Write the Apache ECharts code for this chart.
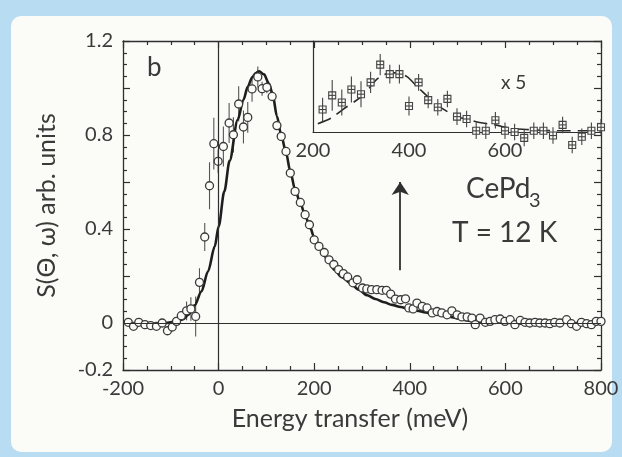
<!DOCTYPE html>
<html>
<head>
<meta charset="utf-8">
<script src="https://cdn.jsdelivr.net/npm/echarts@6/dist/echarts.min.js"></script>
<style>
  html, body { margin: 0; padding: 0; width: 622px; height: 457px; overflow: hidden; background: #b8dcf1; }
  #panel { position: absolute; left: 11px; top: 16px; width: 601px; height: 436px; background: #fbfbf8; border-radius: 10px; }
  #chart { position: absolute; left: 0; top: 0; width: 622px; height: 457px; }
</style>
</head>
<body>
<div id="panel"></div>
<div id="chart"></div>
<script>
// Measured spectrum: energy transfer (meV), intensity S(Θ, ω) and its error
const energy = [-189, -178, -167, -154, -142, -130, -118, -107, -97, -88, -78, -67, -58, -48, -40, -29, -19, -10, -1, 10,
  22, 31, 42, 52, 61, 70, 82, 91, 101, 112, 122, 131, 141, 150, 160, 171, 181, 190, 200, 210,
  221, 231, 241, 251, 261, 270, 281, 290, 301, 310, 320, 331, 342, 351, 360, 370, 381, 391, 398, 407,
  415, 426, 436, 447, 457, 467, 478, 488, 499, 509, 520, 530, 537, 547, 558, 568, 578, 589, 599, 610,
  620, 631, 641, 651, 662, 672, 683, 693, 703, 714, 728, 738, 749, 759, 770, 780, 790, 800];
const intensity = [0.003, -0.014, 0.003, -0.007, -0.011, -0.014, 0.000, -0.033, -0.017, 0.007, 0.031, 0.052, 0.060, 0.028, 0.173, 0.366, 0.584, 0.763, 0.688, 0.751,
  0.851, 0.801, 0.932, 0.834, 0.875, 0.996, 1.047, 0.997, 1.003, 0.964, 0.840, 0.794, 0.730, 0.638, 0.560, 0.513, 0.461, 0.418, 0.354, 0.326,
  0.300, 0.269, 0.249, 0.227, 0.210, 0.196, 0.171, 0.184, 0.149, 0.145, 0.142, 0.142, 0.139, 0.139, 0.123, 0.102, 0.099, 0.103, 0.064, 0.060,
  0.085, 0.071, 0.064, 0.043, 0.049, 0.043, 0.035, 0.052, 0.035, 0.026, 0.026, 0.021, -0.007, 0.021, 0.003, 0.007, 0.014, 0.017, 0.007, 0.014,
  -0.007, 0.011, 0.003, 0.000, 0.003, 0.000, 0.000, -0.003, 0.003, 0.000, 0.014, -0.003, -0.014, 0.003, -0.003, -0.007, 0.007, 0.007];
const intensityErr = [0, 0, 0, 0, 0, 0, 0, 0, 0, 0, 0.02, 0.04, 0.05, 0.085, 0.06, 0.06, 0.1, 0.11, 0.05, 0.085,
  0.085, 0.075, 0.075, 0.07, 0.065, 0.055, 0.045, 0.03, 0.025, 0.02];

// Model line shape
const fitEnergy = [-110, -90, -75, -63, -50, -36, -22, -8, 0, 12, 23, 40, 52, 61, 70, 78, 85, 95, 105, 113,
  122, 131, 141, 150, 160, 171, 181, 190, 200, 215, 228, 242, 258, 276, 293, 311, 328, 346, 363, 381,
  398, 415, 433, 450, 468, 485, 503, 520, 537, 560];
const fitIntensity = [0, 0.005, 0.015, 0.035, 0.075, 0.134, 0.22, 0.326, 0.41, 0.56, 0.69, 0.865, 0.95, 1.005, 1.045, 1.064, 1.071, 1.058, 1.02, 0.975,
  0.88, 0.80, 0.725, 0.645, 0.568, 0.51, 0.458, 0.415, 0.365, 0.31, 0.27, 0.227, 0.195, 0.17, 0.142, 0.118, 0.102, 0.088, 0.077, 0.068,
  0.06, 0.052, 0.045, 0.038, 0.032, 0.026, 0.019, 0.011, 0.004, 0];

// Inset: residual (data minus model), shown magnified x5
const insetEnergy = [220, 240, 260, 280, 300, 320, 340, 360, 380, 400, 420, 440, 460, 480, 500,
  520, 540, 560, 580, 600, 620, 640, 660, 680, 700, 720, 740, 760, 780, 800];
const insetResidual = [0.019, 0.031, 0.025, 0.036, 0.032, 0.042, 0.057, 0.049, 0.049, 0.022, 0.042, 0.027, 0.021, 0.028, 0.013,
  0.011, 0.001, 0.001, 0.010, 0.001, 0.000, -0.005, 0.001, 0.001, -0.003, 0.006, -0.011, -0.004, 0.001, 0.004];
const insetErr = [0.010, 0.013, 0.011, 0.011, 0.011, 0.009, 0.009, 0.008, 0.008, 0.008, 0.007, 0.007, 0.007, 0.007, 0.007,
  0.007, 0.007, 0.007, 0.007, 0.007, 0.007, 0.007, 0.007, 0.007, 0.007, 0.007, 0.007, 0.007, 0.007, 0.007];
const insetFitEnergy = [210, 239, 262, 304, 329, 341, 360, 374, 395, 418, 439, 458, 499, 520, 547, 579, 614, 652, 714, 800];
const insetFitResidual = [0.007, 0.012, 0.019, 0.031, 0.043, 0.047, 0.050, 0.050, 0.047, 0.038, 0.030, 0.023, 0.013, 0.011, 0.008, 0.006, 0.003, 0.002, 0.001, 0.001];

// Tick labels
const xTickLabels = [-200, 0, 200, 400, 600, 800];
const yTickLabels = [-0.2, 0, 0.4, 0.8, 1.2];
const insetXTickLabels = [200, 400, 600];

const INK = '#2f2f2f';
const TEXT = '#3a3a3a';
const PAPER = '#fbfbf8';
const FONT = 'Lato, "DejaVu Sans", sans-serif';

const hasLabel = (list, v) => list.some(t => Math.abs(t - v) < 1e-6);
const fmt = v => String(Math.round(v * 10) / 10);

const spectrum = energy.map((e, i) => [e, intensity[i], intensityErr[i] || 0]);
const model = fitEnergy.map((e, i) => [e, fitIntensity[i]]);
const residual = insetEnergy.map((e, i) => [e, insetResidual[i], insetErr[i]]);
const residualModel = insetFitEnergy.map((e, i) => [e, insetFitResidual[i]]);

const tickStyle = { color: INK, width: 1.2 };
function frameAxis(extra) {
  return Object.assign({
    axisLine: { show: true, onZero: false, lineStyle: { color: INK, width: 1.3 } },
    axisTick: { show: true, inside: true, length: 7, lineStyle: tickStyle },
    minorTick: { show: true, splitNumber: 4, length: 4, lineStyle: tickStyle },
    splitLine: { show: false },
    minorSplitLine: { show: false }
  }, extra);
}

const chart = echarts.init(document.getElementById('chart'), null, { renderer: 'canvas' });

chart.setOption({
  animation: false,
  backgroundColor: 'transparent',
  textStyle: { fontFamily: FONT },
  grid: [
    { left: 123, right: 21, top: 41, bottom: 87 },
    { left: 313, right: 21, top: 41, height: 91 }
  ],
  xAxis: [
    frameAxis({
      type: 'value', gridIndex: 0, position: 'bottom', min: -200, max: 800, interval: 200,
      axisLabel: { show: true, margin: 9, color: TEXT, fontSize: 20, fontFamily: FONT,
        formatter: v => hasLabel(xTickLabels, v) ? String(v) : '' },
      name: 'Energy transfer (meV)', nameLocation: 'middle', nameGap: 36,
      nameTextStyle: { color: TEXT, fontSize: 25, fontFamily: FONT, padding: [0, 24, 0, 0] }
    }),
    frameAxis({
      type: 'value', gridIndex: 0, position: 'top', min: -200, max: 800, interval: 200,
      axisLabel: { show: false }
    }),
    {
      type: 'value', gridIndex: 1, position: 'bottom', min: 200, max: 800, interval: 200,
      axisLine: { show: true, onZero: false, lineStyle: { color: INK, width: 1.2 } },
      axisTick: { show: false }, splitLine: { show: false },
      axisLabel: { show: true, margin: 9, color: TEXT, fontSize: 20, fontFamily: FONT,
        formatter: v => hasLabel(insetXTickLabels, v) ? String(v) : '' }
    }
  ],
  yAxis: [
    frameAxis({
      type: 'value', gridIndex: 0, position: 'left', min: -0.2, max: 1.2, interval: 0.2,
      axisLabel: { show: true, margin: 10, color: TEXT, fontSize: 20, fontFamily: FONT,
        formatter: v => hasLabel(yTickLabels, v) ? fmt(v) : '' },
      name: 'S(Θ, ω) arb. units', nameLocation: 'middle', nameRotate: 90, nameGap: 64,
      nameTextStyle: { color: TEXT, fontSize: 25, fontFamily: FONT }
    }),
    frameAxis({
      type: 'value', gridIndex: 0, position: 'right', min: -0.2, max: 1.2, interval: 0.2,
      axisLabel: { show: false }
    }),
    {
      type: 'value', gridIndex: 1, position: 'left', min: 0, max: 0.077,
      axisLine: { show: true, onZero: false, lineStyle: { color: INK, width: 1.2 } },
      axisTick: { show: false }, axisLabel: { show: false }, splitLine: { show: false }
    }
  ],
  series: [
    // reference lines at zero energy and zero intensity
    {
      type: 'line', xAxisIndex: 0, yAxisIndex: 0, data: [], silent: true,
      markLine: {
        silent: true, symbol: 'none', label: { show: false },
        lineStyle: { color: INK, width: 1.2, type: 'solid' },
        data: [{ xAxis: 0 }, { yAxis: 0 }]
      }
    },
    // arrow pointing from the excess scattering up to the inset
    {
      type: 'line', xAxisIndex: 0, yAxisIndex: 0, data: [], silent: true,
      markLine: {
        silent: true, symbol: ['none', 'arrow'], symbolSize: 13, label: { show: false },
        lineStyle: { color: INK, width: 1.8, type: 'solid' },
        itemStyle: { color: INK },
        data: [[{ coord: [380, 0.224] }, { coord: [380, 0.6] }]]
      }
    },
    // error bars of the measured spectrum
    {
      type: 'custom', xAxisIndex: 0, yAxisIndex: 0, data: spectrum, z: 2, silent: true,
      renderItem: (params, api) => {
        const e = api.value(2);
        if (!e) return null;
        const lo = api.coord([api.value(0), api.value(1) - e]);
        const hi = api.coord([api.value(0), api.value(1) + e]);
        return { type: 'line', shape: { x1: lo[0], y1: lo[1], x2: hi[0], y2: hi[1] },
          style: { stroke: '#555', lineWidth: 1.1 } };
      }
    },
    // model curve
    {
      type: 'line', xAxisIndex: 0, yAxisIndex: 0, data: model, z: 3,
      showSymbol: false, smooth: 0.3, smoothMonotone: 'x',
      lineStyle: { color: '#1e1e1e', width: 2.6 }
    },
    // measured points
    {
      type: 'scatter', xAxisIndex: 0, yAxisIndex: 0, data: spectrum, z: 4,
      symbol: 'circle', symbolSize: 8,
      itemStyle: { color: PAPER, opacity: 1, borderColor: '#3a3a3a', borderWidth: 1.3 }
    },
    // inset: dashed model of the residual
    {
      type: 'line', xAxisIndex: 2, yAxisIndex: 2, data: residualModel, z: 3, clip: false,
      showSymbol: false, smooth: 0.3,
      lineStyle: { color: '#2a2a2a', width: 1.6, type: [14, 7] }
    },
    // inset: residual points with error bars
    {
      type: 'custom', xAxisIndex: 2, yAxisIndex: 2, data: residual, z: 4, clip: false, silent: true,
      renderItem: (params, api) => {
        const x = api.value(0), y = api.value(1), e = api.value(2);
        const c = api.coord([x, y]);
        const lo = api.coord([x, y - e]);
        const hi = api.coord([x, y + e]);
        const h = 3.5;
        const stroke = { stroke: '#444', lineWidth: 1.1 };
        return {
          type: 'group',
          children: [
            { type: 'rect', shape: { x: c[0] - h, y: c[1] - h, width: 2 * h, height: 2 * h },
              style: { fill: PAPER, stroke: '#444', lineWidth: 1.1 } },
            { type: 'line', shape: { x1: lo[0], y1: lo[1], x2: hi[0], y2: hi[1] }, style: stroke },
            { type: 'line', shape: { x1: c[0] - h, y1: c[1], x2: c[0] + h, y2: c[1] }, style: stroke }
          ]
        };
      }
    }
  ],
  graphic: [
    { type: 'text', left: 147, top: 55, style: { text: 'b', fontSize: 26, fontFamily: FONT, fill: TEXT } },
    { type: 'text', left: 501, top: 73, style: { text: 'x 5', fontSize: 19, fontFamily: FONT, fill: TEXT } },
    { type: 'text', left: 466, top: 175, style: { text: 'CePd', fontSize: 28, fontFamily: FONT, fill: TEXT } },
    { type: 'text', left: 529, top: 191, style: { text: '3', fontSize: 20, fontFamily: FONT, fill: TEXT } },
    { type: 'text', left: 452, top: 219, style: { text: 'T = 12 K', fontSize: 28, fontFamily: FONT, fill: TEXT } }
  ]
});
</script>
</body>
</html>
